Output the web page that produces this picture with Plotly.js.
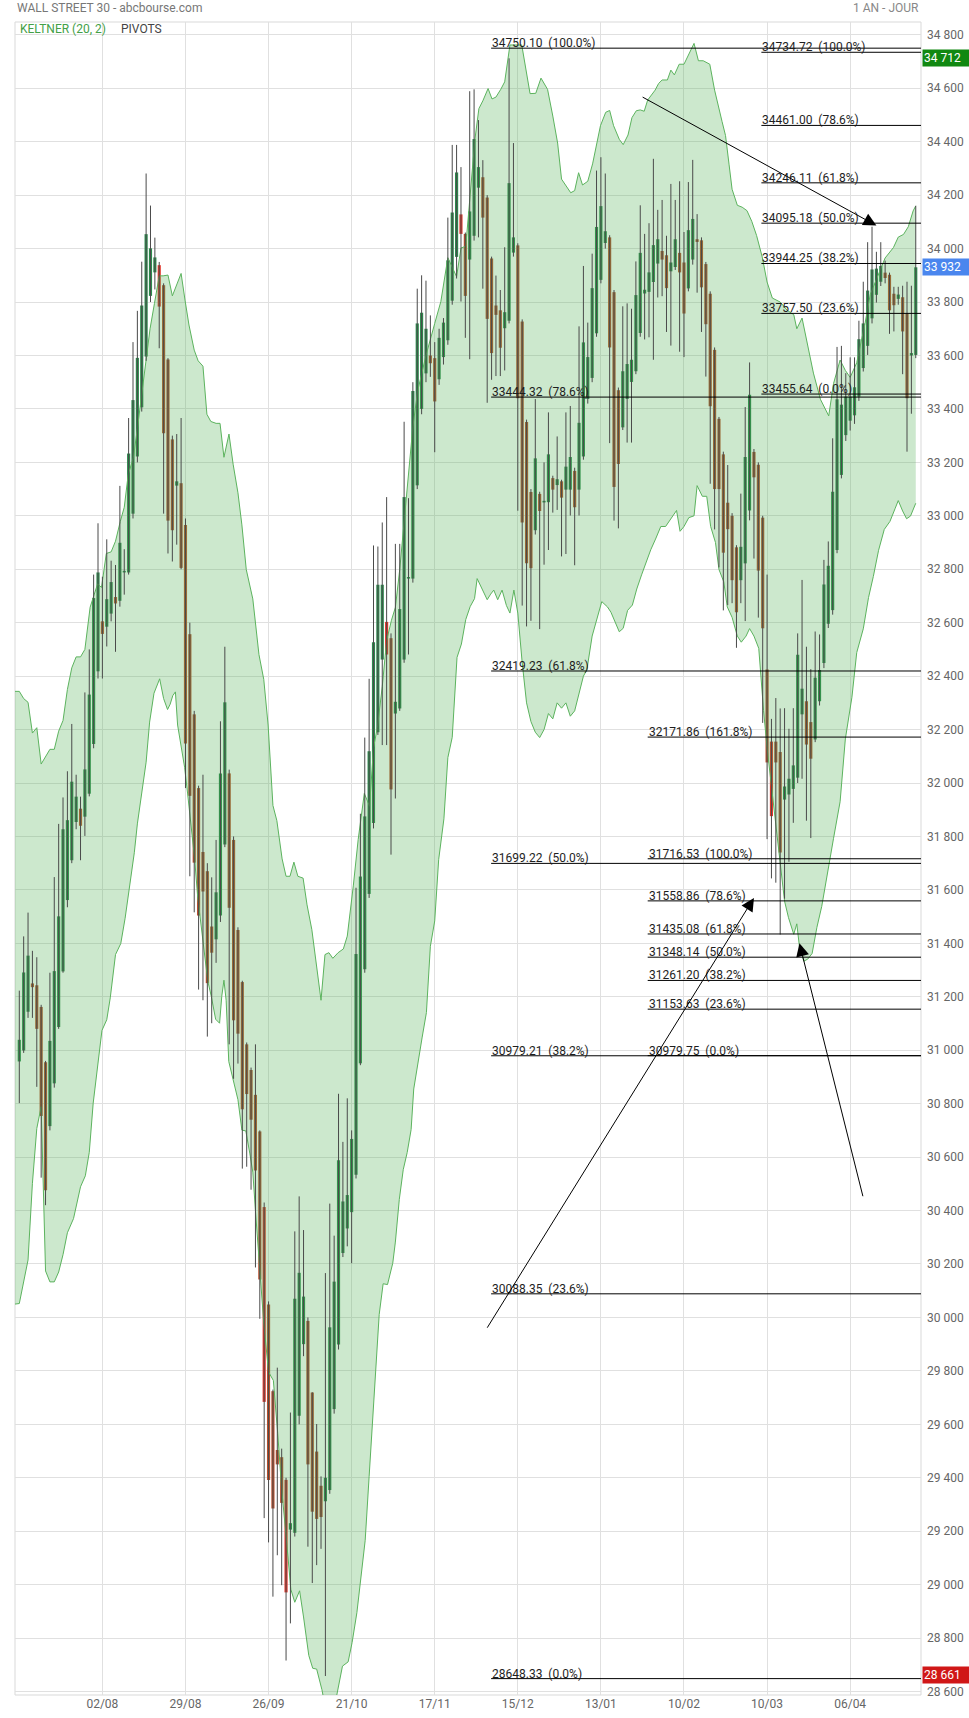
<!DOCTYPE html>
<html><head><meta charset="utf-8">
<script src="https://cdn.plot.ly/plotly-3.0.1.min.js"></script>
<style>html,body{margin:0;padding:0;background:#fff;}#chart{width:969px;height:1718px;}</style>
</head><body><div id="chart"></div>
<script>
// ---------- DATA ----------
const DATE_LABELS = ['02/08','29/08','26/09','21/10','17/11','15/12','13/01','10/02','10/03','06/04'];
const DATE_INDEX  = [19,38,57,76,95,114,133,152,171,190];

const OPEN = [30958,30999,31144,31250,31243,31162,30955,30716,30876,31087,
31295,31562,31711,31854,31904,31874,31960,32146,32418,32605,
32585,32634,32696,32682,32788,32788,33008,33222,33406,33596,
33823,33911,33938,33863,33585,33286,33113,33122,32966,32557,
32257,31981,31742,31670,31463,31415,31504,31770,32036,31787,
31450,31255,31022,30926,30833,30696,30413,30048,29724,29504,
29477,29392,29206,29194,29632,29900,29987,29719,29498,29370,
29312,29354,29657,29899,30241,30333,30394,30534,30951,31303,
31585,31850,32190,32462,32603,32542,32260,32279,32462,32765,
32765,33114,33400,33533,33600,33590,33511,33594,33657,33805,
33969,34128,34055,33959,34048,34228,34267,34191,33963,33787,
33769,33702,33730,33985,34012,33727,33351,33089,32946,33082,
33050,33051,33141,33115,33129,33098,33098,33168,33098,33222,
33437,33516,33683,33883,34021,34042,33837,33470,33331,33437,
33501,33541,33684,33832,33838,33875,33944,33991,33975,33915,
33931,33984,33948,33851,33959,34035,34031,33942,33831,33621,
33363,33230,33049,33000,32882,32759,32822,33020,33239,33191,
32993,32425,32155,32155,32116,31938,31957,31978,32020,32257,
32306,32228,32163,32306,32449,32596,32647,32872,33153,33302,
33356,33376,33446,33553,33636,33739,33827,33876,33910,33902,
33831,33812,33818,33757,33600,33602];
const HIGH = [31223,31426,31515,31372,31348,31170,30960,31290,31648,31847,
31946,32044,32221,32031,31949,32339,32500,32780,32972,32772,
32912,32832,32816,33112,32875,33366,33650,33767,33951,34281,
34161,34041,33950,33870,33590,33300,33306,33366,32990,32600,
32270,31990,32031,31700,31647,31787,32231,32510,32050,31800,
31460,31260,31029,30935,31022,30700,30430,30060,29730,29812,
29509,29400,29644,30322,30453,30327,30000,29720,29601,29405,
30166,30426,30306,30837,30657,30820,30700,31608,31885,32170,
32390,32889,32885,32975,33070,32560,32895,32895,33352,33066,
33500,33850,33900,33880,33750,33650,33700,33740,34116,34388,
34388,34305,34060,34589,34596,34481,34331,34200,33970,33899,
33845,34005,34712,34395,34020,33735,33360,33100,33437,33090,
33200,33387,33150,33297,33135,33387,33411,33180,33709,33935,
33723,33981,34292,34342,34281,34050,33845,33480,33784,33795,
33775,33952,34162,34055,34095,34336,34145,34182,34048,34242,
34182,34252,34062,34249,34332,34129,34042,33950,33840,33630,
33370,33240,33190,33010,32890,33083,33407,33574,33250,33200,
33000,32780,32240,32318,32279,32280,32203,32280,32560,32760,
32510,32426,32567,32556,32835,32904,33290,33632,33636,33534,
33593,33593,33730,33876,34024,34082,33988,34024,33955,33910,
33857,33857,33861,33876,33861,34160];
const LOW = [30802,30990,31121,31121,30863,30523,30420,30700,30860,31080,
31290,31535,31700,31827,31711,31802,31950,32130,32391,32391,
32511,32605,32491,32660,32705,32780,32990,33200,33390,33580,
33800,33847,33627,33008,32859,32829,32892,32800,31981,31651,
31516,31227,31187,31051,31101,31327,31480,31760,31022,30893,
30950,30557,30564,30478,30187,29995,29249,29158,28955,29110,
28998,28716,28855,29180,29600,29855,29142,29006,29073,29134,
28658,29340,29640,29880,30226,30266,30203,30520,30944,31290,
31570,31830,32180,32142,32142,31732,31942,32270,32450,32481,
32750,33100,33380,33500,33520,33238,33490,33566,33640,33790,
33888,33802,33666,33586,34030,34042,33850,33423,33509,33523,
33523,33544,33720,33970,33019,32664,32586,32607,32930,32576,
32817,32872,33012,33022,32848,32857,33001,32815,33001,33210,
33420,33500,33670,33870,34000,33272,32982,32953,33321,33274,
33274,33530,33670,33660,33668,33584,33817,33822,33688,33637,
33920,33614,33594,33840,33940,33835,33688,33521,33120,32949,
32807,32646,32666,32673,32506,32673,32606,32983,32840,32619,
32225,31790,31643,31627,31433,31567,31705,31851,32000,32016,
31859,31794,32153,32290,32430,32580,32630,32860,33140,33280,
33319,33344,33430,33540,33602,33720,33798,33860,33870,33681,
33690,33790,33530,33240,33382,33590];
const CLOSE = [31039,31291,31354,31236,31080,30754,30476,31035,31296,31501,
31827,31861,32005,31949,31840,32051,32331,32692,32788,32558,
32688,32752,32672,32899,32790,33233,33433,33591,33787,34054,
34001,33967,33783,33309,32982,32946,33129,32805,32148,31952,
31702,31504,31594,31251,31365,31591,32036,32302,31533,31112,
31062,30779,30836,30740,30550,30142,29684,29392,29285,29450,
29306,28971,29230,30070,30167,30078,29450,29273,29246,29253,
29400,29963,30134,30588,30434,30458,30668,31360,31650,31875,
32119,32527,32742,32742,32481,31976,32304,32651,33070,32770,
33467,33720,33760,33700,33571,33428,33666,33723,33956,34135,
34285,34055,33823,34139,34410,34305,34116,33737,33609,33752,
33629,33762,34245,34042,33440,32975,32822,32804,33215,33018,
33052,33230,33098,33137,33068,33184,33220,33032,33348,33649,
33594,33852,34081,34159,34065,33630,33108,33194,33541,33568,
33584,33826,33984,33846,33911,34013,34035,33959,33852,33948,
34035,33911,33757,34069,34111,34025,33855,33717,33410,33100,
33100,32862,32950,32759,32639,32884,33220,33453,33144,32795,
32579,32077,31876,32077,31740,31987,32016,32066,32480,32353,
32144,32091,32394,32423,32743,32813,33090,33436,33416,33446,
33446,33481,33661,33720,33843,33922,33925,33935,33890,33769,
33788,33828,33690,33440,33609,33930];
// candles drawn in the brighter red in the reference
const BRIGHT_RED_CANDLES = [32,56,61,84,101,172];

// Keltner (20, 2) bands (candle position, value)
const KELT_UP_X = [-0.98,0,1,2,3,4,5,6,7,8,
9,10,11,12,13,14,15,16.2,17,17.9,
18.8,19.9,21,22,23.1,24,24.9,26.1,27,27.9,
29,29.9,30.9,32,32.9,34,35,35.9,37,37.9,
38.8,40,40.9,42,42.9,43.8,45,45.9,46.8,47.95,
48.9,50,50.9,51.9,52.7,53.4,54.8,55.9,56.9,58,
58.9,60.1,61,61.9,62.8,63.7,64.9,65.8,66.9,67.8,
69,69.9,70.8,71.7,72.9,74.1,75,76.4,77.5,78.9,
80.1,81,81.9,83,84,85.1,86,87,88.1,89,
90,91.1,93,95,96.4,98,100,101,102.1,104.2,
105.1,106,107.2,108.1,109,110.1,111,112.2,114.9,116.8,
118.1,119.3,120.8,122,123.1,124,124.9,126.1,127,127.9,
128.8,130,131.1,132,132.9,134.1,135,135.9,137.2,138.1,
139.2,140.1,141.1,142,142.9,143.7,145.4,146.2,147,148.2,
149,149.8,150.9,152,153.1,154.3,155.3,156.4,157.9,159,
160.7,161.5,162.3,163,164.2,165.3,166.4,167.5,168.6,169.9,
171,172.2,174,175.6,177.1,177.8,179,180.1,181.6,183.2,
185.1,186.2,187.7,188.9,190,191.5,193.4,194.6,196.5,198,
199.9,201,202.2,203.3,204.4,205];
const KELT_UP_Y = [32343,32343,32316,32302,32187,32207,32071,32098,32126,32126,
32194,32234,32350,32431,32472,32472,32500,32658,32698,32745,
32732,32859,32865,32905,32979,33032,33153,33219,33326,33447,
33593,33700,33794,33898,33898,33901,33823,33861,33907,33807,
33714,33620,33580,33560,33380,33353,33346,33346,33219,33306,
33193,33086,32966,32799,32745,32689,32481,32388,32217,31916,
31859,31716,31651,31651,31704,31651,31644,31544,31451,31330,
31187,31358,31365,31344,31365,31379,31427,31618,31789,31961,
31913,32132,32209,32361,32533,32609,32657,32799,32990,33162,
33333,33467,33600,33720,33802,33966,33895,34002,34009,34410,
34524,34553,34599,34560,34567,34596,34624,34762,34762,34580,
34581,34638,34596,34496,34395,34260,34238,34209,34217,34284,
34238,34252,34317,34395,34460,34510,34517,34460,34409,34389,
34425,34490,34516,34519,34514,34556,34593,34618,34631,34631,
34668,34650,34690,34690,34725,34768,34703,34703,34690,34593,
34476,34423,34316,34222,34162,34155,34142,34102,34049,33968,
33875,33815,33800,33769,33753,33700,33740,33652,33534,33436,
33374,33495,33583,33544,33518,33573,33720,33828,33906,33965,
34004,34043,34053,34082,34141,34160];
const KELT_LO_X = [-0.98,0,2,3,4,5,6,7,8,9,
10,11,12.4,13.1,14,15.1,16,16.9,17.9,18.9,
20,20.8,22,23.2,24.2,25.3,26.3,27,28,29,
29.8,30.8,32.1,33,33.9,34.5,35.1,35.7,36.2,37,
37.8,38.5,39.3,40.1,40.8,41.6,42.4,43.1,43.9,44.9,
45.8,46.3,46.8,47.3,47.9,48.8,50,50.9,51.8,52.7,
53.4,54,55.9,57,58.1,59.1,60,61.1,62.1,63,
64.1,65,66.2,67.1,68,69.2,70,71.2,72.7,73.9,
75.2,76.1,77.2,78.1,79.1,80,80.9,81.8,82.3,83.2,
84.2,85.4,86,86.9,87.8,88.7,89.6,90.2,91.1,92.1,
93.1,94,95,95.9,97.1,98,99,100.1,101.1,102.1,
103.1,104.1,104.7,105.9,107,107.8,108.5,109.4,110.4,111.4,
112.2,113.1,114,115,116,117,118,119,120,121,
122,123,124,125,126,127,128,129,129.8,131,
133.2,134.5,135.3,136.2,137.2,138.1,139.1,140.2,141.2,142.3,
143.3,144.4,145.5,146.7,147.8,148.6,149.3,150.3,151.1,152,
153.1,154.3,155,156.2,157.2,158.1,159.2,160,161.1,161.9,
163,164.2,165.1,166.2,167,168,169.1,169.5,170.2,171,
172,173.1,174,175,175.9,177.1,177.8,178.4,179.4,180.3,
181.3,182.4,183.5,184.7,186.2,187.7,188.9,190.4,191.5,193,
194.2,195.3,196.5,197.8,199.1,200.3,201,202,202.9,203.8,
205];
const KELT_LO_Y = [30050,30052,30215,30502,30707,30789,30174,30133,30133,30170,
30235,30317,30370,30421,30489,30530,30618,30802,30938,31074,
31114,31196,31358,31399,31494,31616,31739,31847,31970,32078,
32228,32336,32390,32316,32275,32295,32327,32341,32217,32131,
32059,31959,31830,31716,31573,31459,31359,31259,31202,31116,
31101,31202,31262,31187,30958,30901,30815,30701,30698,30615,
30544,30400,29979,29796,29764,29565,29357,29166,28982,28934,
28977,28879,28735,28687,28684,28607,28540,28470,28591,28695,
28711,28783,28895,29022,29166,29405,29644,29884,30011,30126,
30123,30203,30282,30442,30553,30617,30703,30855,30951,31046,
31141,31389,31484,31713,31866,32095,32171,32470,32520,32612,
32660,32690,32765,32722,32686,32707,32722,32686,32722,32664,
32636,32722,32636,32450,32300,32230,32190,32170,32200,32260,
32240,32300,32280,32300,32250,32270,32330,32400,32424,32550,
32679,32659,32639,32606,32566,32579,32646,32666,32726,32779,
32826,32873,32913,32960,32960,32980,33000,33020,32942,32960,
32993,33000,33113,33073,33073,32960,32900,32799,32753,32659,
32620,32550,32527,32550,32578,32550,32504,32411,32271,32132,
31992,31837,31713,31558,31496,31434,31473,31388,31333,31341,
31362,31460,31538,31656,31793,31930,32165,32321,32488,32577,
32694,32773,32871,32949,32979,33028,33057,33018,32989,32999,
33047];

// Fibonacci (PIVOTS) drawings: anchor candle position, levels, percentages
const FIB_A_START = 107.9;
const FIB_A_LEVELS = [34750.10,33444.32,32419.23,31699.22,30979.21,30088.35,28648.33];
const FIB_A_PCT    = ['100.0%','78.6%','61.8%','50.0%','38.2%','23.6%','0.0%'];
const FIB_B_START = 143.7;
const FIB_B_LEVELS = [32171.86,31716.53,31558.86,31435.08,31348.14,31261.20,31153.63,30979.75];
const FIB_B_PCT    = ['161.8%','100.0%','78.6%','61.8%','50.0%','38.2%','23.6%','0.0%'];
const FIB_C_START = 169.7;
const FIB_C_LEVELS = [34734.72,34461.00,34246.11,34095.18,33944.25,33757.50,33455.64];
const FIB_C_PCT    = ['100.0%','78.6%','61.8%','50.0%','38.2%','23.6%','0.0%'];

// trend arrows (tail candle pos, tail value, head candle pos, head value)
const ARROW_TAIL_X = [142.2,106.8,193.0];
const ARROW_TAIL_Y = [34570,29956,30448];
const ARROW_HEAD_X = [196.0,168.0,178.4];
const ARROW_HEAD_Y = [34086,31570,31400];

// price markers on the right scale
const MARK_VALUES = [34712,33932,28661];
const MARK_TEXT   = ['34 712','33 932','28 661'];
const MARK_COLORS = ['#118811','#4a86ee','#d01717'];

// ---------- BUILD ----------
const XMIN = -0.983, XMAX = 206.2, YMIN = 28587, YMAX = 34848;
const FONT = 'Roboto, "Open Sans", sans-serif';
const IDX = OPEN.map((_, i) => i);

const wickX = [], wickY = [];
IDX.forEach(i => { wickX.push(i, i, null); wickY.push(LOW[i], HIGH[i], null); });
const bodyBase = IDX.map(i => Math.min(OPEN[i], CLOSE[i]));
const bodyH = IDX.map(i => Math.max(Math.abs(CLOSE[i] - OPEN[i]), 6));
const bodyCol = IDX.map(i => CLOSE[i] >= OPEN[i] ? '#2b8a4c' :
  (BRIGHT_RED_CANDLES.indexOf(i) >= 0 ? '#e2362b' : '#b64f2d'));

const traces = [
  {x: KELT_UP_X, y: KELT_UP_Y, type: 'scatter', mode: 'lines',
   line: {color: '#5cb35e', width: 1}, hoverinfo: 'skip', showlegend: false},
  {x: KELT_LO_X, y: KELT_LO_Y, type: 'scatter', mode: 'lines', fill: 'tonexty',
   fillcolor: 'rgba(76,175,80,0.285)', line: {color: '#5cb35e', width: 1},
   hoverinfo: 'skip', showlegend: false},
  {x: wickX, y: wickY, type: 'scatter', mode: 'lines', connectgaps: false,
   line: {color: '#4a4a4a', width: 1}, hoverinfo: 'skip', showlegend: false},
  {x: IDX, y: bodyH, base: bodyBase, type: 'bar', width: 0.72,
   marker: {color: bodyCol, line: {width: 0}}, hoverinfo: 'skip', showlegend: false}
];

const shapes = [
  {type: 'rect', xref: 'paper', yref: 'paper', x0: 0, x1: 1, y0: 0, y1: 1,
   line: {color: '#d9d9d9', width: 1}, layer: 'below'}
];
const annotations = [];
function addFib(start, levels, pcts) {
  levels.forEach((lv, k) => {
    shapes.push({type: 'line', xref: 'x', yref: 'y', x0: start, x1: XMAX, y0: lv, y1: lv,
      line: {color: '#000', width: 1}, layer: 'above'});
    annotations.push({xref: 'x', yref: 'y', x: start, y: lv, xanchor: 'left', yanchor: 'bottom',
      text: lv.toFixed(2) + '\u00a0 (' + pcts[k] + ')', showarrow: false, borderpad: 0,
      yshift: -3, font: {family: FONT, size: 12, color: '#1e1e1e'}});
  });
}
addFib(FIB_A_START, FIB_A_LEVELS, FIB_A_PCT);
addFib(FIB_B_START, FIB_B_LEVELS, FIB_B_PCT);
addFib(FIB_C_START, FIB_C_LEVELS, FIB_C_PCT);

ARROW_HEAD_X.forEach((hx, k) => {
  annotations.push({xref: 'x', yref: 'y', axref: 'x', ayref: 'y', x: hx, y: ARROW_HEAD_Y[k],
    ax: ARROW_TAIL_X[k], ay: ARROW_TAIL_Y[k], text: '', showarrow: true,
    arrowhead: 2, arrowsize: 2.6, arrowwidth: 1, arrowcolor: '#000', standoff: 0});
});

MARK_VALUES.forEach((v, k) => {
  annotations.push({xref: 'paper', yref: 'y', x: 1, y: v, xanchor: 'left', yanchor: 'middle',
    xshift: 1, text: MARK_TEXT[k], showarrow: false, bgcolor: MARK_COLORS[k], borderpad: 1,
    width: 44, align: 'left', font: {family: FONT, size: 12, color: '#fff'}});
});

annotations.push(
  {xref: 'paper', yref: 'paper', x: 0, y: 1, yshift: 14, xanchor: 'left', yanchor: 'middle',
   text: 'WALL STREET 30 - abcbourse.com', showarrow: false,
   font: {family: FONT, size: 12, color: '#777'}},
  {xref: 'paper', yref: 'paper', x: 1, y: 1, yshift: 14, xanchor: 'right', yanchor: 'middle',
   text: '1 AN - JOUR', showarrow: false, font: {family: FONT, size: 12, color: '#888'}},
  {xref: 'paper', yref: 'paper', x: 0, y: 1, xshift: 3, yshift: -7, xanchor: 'left', yanchor: 'middle',
   text: 'KELTNER (20, 2)', showarrow: false, font: {family: FONT, size: 12, color: '#43a047'}},
  {xref: 'paper', yref: 'paper', x: 0, y: 1, xshift: 104, yshift: -7, xanchor: 'left', yanchor: 'middle',
   text: 'PIVOTS', showarrow: false, font: {family: FONT, size: 12, color: '#444'}}
);

const layout = {
  width: 969, height: 1718,
  margin: {l: 15, r: 48, t: 22, b: 23, pad: 0},
  paper_bgcolor: '#fff', plot_bgcolor: '#fff',
  separators: ', ',
  showlegend: false,
  barmode: 'overlay',
  font: {family: FONT, size: 12, color: '#666'},
  xaxis: {range: [XMIN, XMAX], tickmode: 'array', tickvals: DATE_INDEX, ticktext: DATE_LABELS,
    showgrid: true, gridcolor: '#e0e0e0', gridwidth: 1, zeroline: false, showline: false,
    ticks: '', tickfont: {family: FONT, size: 12, color: '#666'}, fixedrange: true},
  yaxis: {side: 'right', range: [YMIN, YMAX], tick0: 28600, dtick: 200, tickformat: ',d',
    showgrid: true, gridcolor: '#e0e0e0', gridwidth: 1, zeroline: false, showline: false,
    ticks: '', ticklabelstandoff: 5, tickfont: {family: FONT, size: 12, color: '#666'}, fixedrange: true},
  shapes: shapes,
  annotations: annotations
};

Plotly.newPlot('chart', traces, layout, {staticPlot: true, displayModeBar: false});
</script></body></html>
